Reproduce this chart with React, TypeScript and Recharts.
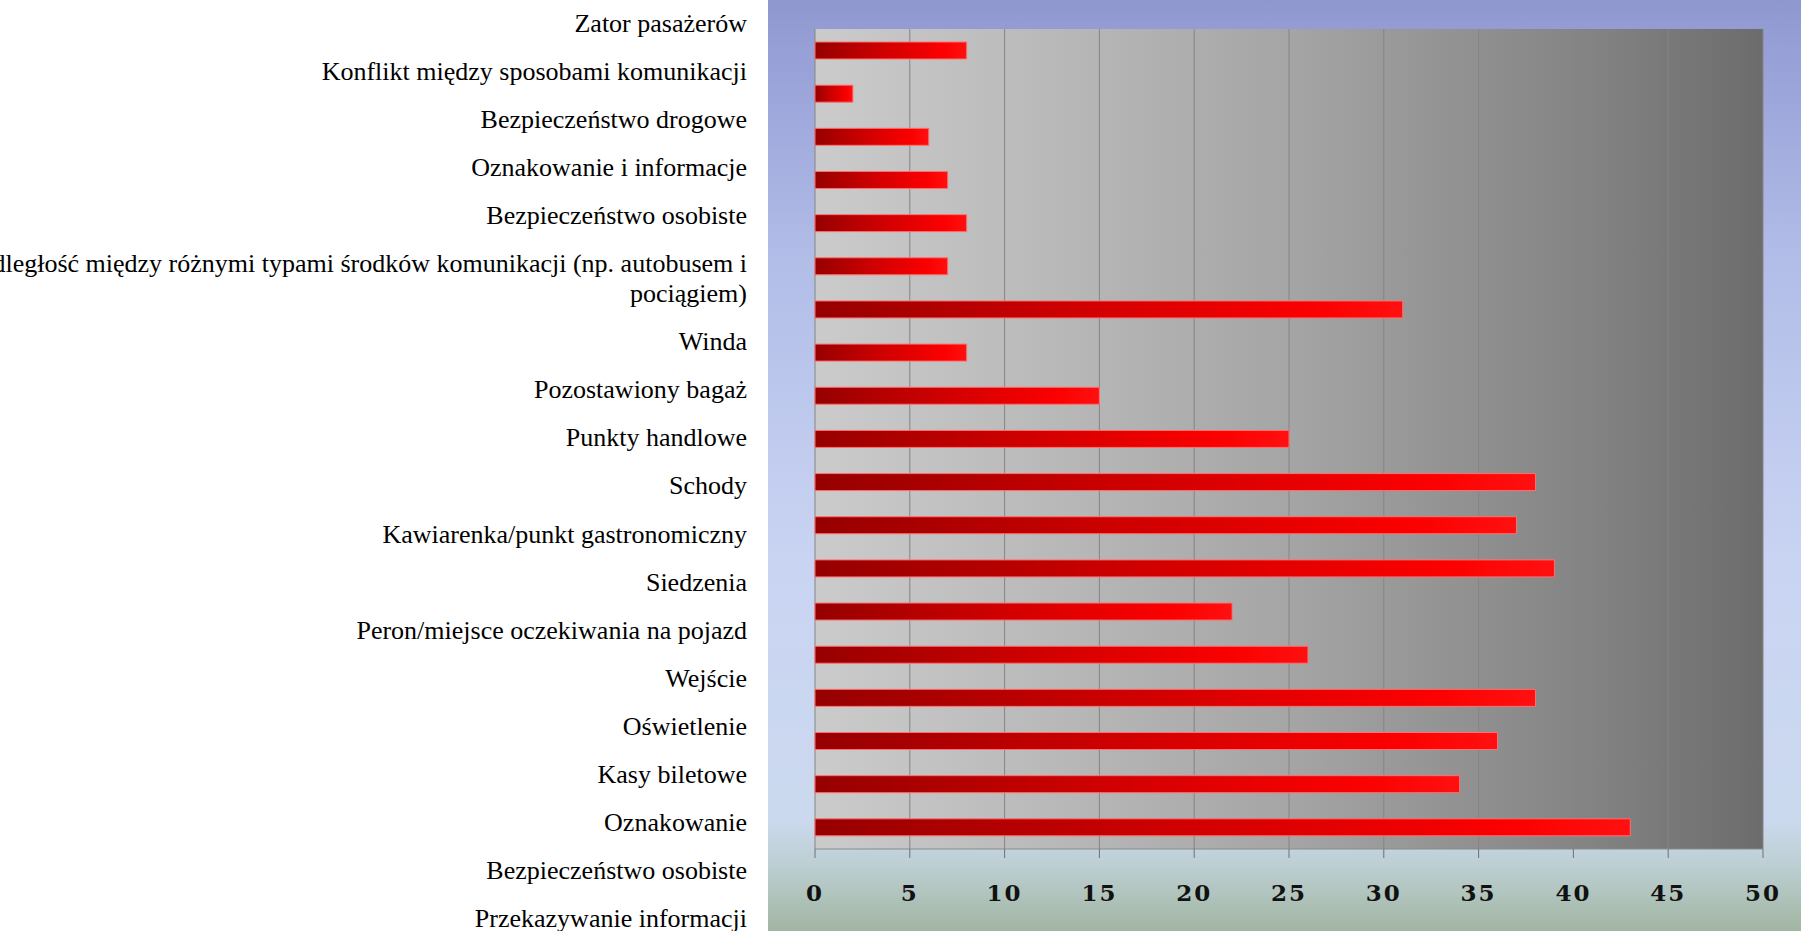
import { BarChart, Bar, XAxis, YAxis, CartesianGrid } from "recharts";

// categories top to bottom, as drawn
const categories = [
  "Zator pasażerów",
  "Konflikt między sposobami komunikacji",
  "Bezpieczeństwo drogowe",
  "Oznakowanie i informacje",
  "Bezpieczeństwo osobiste",
  "Odległość między różnymi typami środków komunikacji (np. autobusem i\npociągiem)",
  "Winda",
  "Pozostawiony bagaż",
  "Punkty handlowe",
  "Schody",
  "Kawiarenka/punkt gastronomiczny",
  "Siedzenia",
  "Peron/miejsce oczekiwania na pojazd",
  "Wejście",
  "Oświetlenie",
  "Kasy biletowe",
  "Oznakowanie",
  "Bezpieczeństwo osobiste",
  "Przekazywanie informacji",
];

const counts = [8, 2, 6, 7, 8, 7, 31, 8, 15, 25, 38, 37, 39, 22, 26, 38, 36, 34, 43];

const xTicks = [0, 5, 10, 15, 20, 25, 30, 35, 40, 45, 50];

const data = categories.map((label, i) => ({ label, count: counts[i] }));
const edgeTicks = Array.from({ length: categories.length + 1 }, (_, i) => i);

// the label column is laid out as a text block, not on the bar bands
const LABEL_RIGHT = 747;
const LABEL_TOP = 23;
const LABEL_GAP = 48.05;
const LINE_H = 30;

const LabelTick = (props: any) => {
  const { index, payload } = props;
  const lines = String(payload.value).split("\n");
  const extra = categories
    .slice(0, index)
    .reduce((s, c) => s + c.split("\n").length - 1, 0);
  const y = LABEL_TOP + index * LABEL_GAP + extra * LINE_H;
  return (
    <text
      x={LABEL_RIGHT}
      y={y}
      textAnchor="end"
      dominantBaseline="central"
      fontFamily="'Liberation Serif', serif"
      fontSize={26}
      fill="#000"
    >
      {lines.map((l, k) => (
        <tspan key={k} x={LABEL_RIGHT} dy={k === 0 ? 0 : LINE_H}>
          {l}
        </tspan>
      ))}
    </text>
  );
};

export default function App() {
  return (
    <div
      style={{
        position: "relative",
        width: 1801,
        height: 931,
        background: "#fff",
        overflow: "hidden",
      }}
    >
      <style>{`body{margin:0}`}</style>
      <div
        style={{
          position: "absolute",
          left: 768,
          top: 0,
          width: 1033,
          height: 931,
          background:
            "linear-gradient(to bottom, #8f97cf 0%, #969fd6 5%, #b2bde8 28%, #c9d4f3 60%, #cbd9ee 88%, #bccfd2 93%, #a2b5a2 100%)",
        }}
      />
      <div style={{ position: "absolute", left: 0, top: 0 }}>
        <BarChart
          width={1801}
          height={931}
          data={data}
          layout="vertical"
          margin={{ top: 29, right: 38, bottom: 0, left: 0 }}
          barCategoryGap={0}
        >
          <defs>
            <linearGradient id="plotBg" x1="0" y1="0" x2="1" y2="0">
              <stop offset="0%" stopColor="#cbcbcb" />
              <stop offset="30%" stopColor="#b5b5b5" />
              <stop offset="50%" stopColor="#a5a5a5" />
              <stop offset="65%" stopColor="#959595" />
              <stop offset="82%" stopColor="#838383" />
              <stop offset="100%" stopColor="#6c6c6c" />
            </linearGradient>
            <linearGradient id="barFill" x1="0" y1="0" x2="1" y2="0">
              <stop offset="0%" stopColor="#960000" />
              <stop offset="45%" stopColor="#d00000" />
              <stop offset="85%" stopColor="#fb0000" />
              <stop offset="100%" stopColor="#ff1010" />
            </linearGradient>
          </defs>
          <CartesianGrid
            horizontal={false}
            fill="url(#plotBg)"
            fillOpacity={1}
            stroke="#858585"
          />
          <XAxis
            type="number"
            domain={[0, 50]}
            ticks={xTicks}
            height={82}
            axisLine={{ stroke: "#8a8a8a" }}
            tickLine={{ stroke: "#707070" }}
            tickSize={9}
            tickMargin={27}
            tick={{
              fill: "#111",
              fontFamily: "'DejaVu Serif', serif",
              fontWeight: "bold",
              fontSize: 23,
              letterSpacing: 2,
            }}
          />
          <YAxis
            yAxisId="edge"
            type="number"
            domain={[0, categories.length]}
            ticks={edgeTicks}
            reversed
            width={0}
            tick={false}
            tickSize={13}
            tickLine={{ stroke: "#7d86a6" }}
            axisLine={{ stroke: "#8e96b4" }}
            allowDataOverflow
          />
          <YAxis
            yAxisId="cat"
            type="category"
            dataKey="label"
            width={815}
            interval={0}
            axisLine={false}
            tickLine={false}
            tick={<LabelTick />}
          />
          <Bar
            yAxisId="cat"
            dataKey="count"
            fill="url(#barFill)"
            stroke="#ff7070"
            strokeWidth={1}
            barSize={17}
            isAnimationActive={false}
          />
        </BarChart>
      </div>
    </div>
  );
}
